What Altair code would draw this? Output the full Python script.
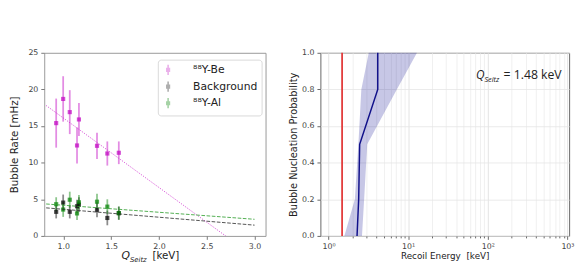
import altair as alt
import pandas as pd

# ---------------- Left panel data ----------------
series = ["⁸⁸Y-Be", "Background", "⁸⁸Y-Al"]
colors = ["#c000c0", "#000000", "#008000"]
light_colors = ["#e290e2", "#8c8c8c", "#80c080"]

q_seitz = [0.925, 0.998, 1.067, 1.143, 1.163, 1.352, 1.46, 1.58]
rate_be = [15.4, 18.7, 16.9, 12.35, 15.9, 12.3, 11.25, 11.35]
err_be = [3.35, 3.1, 3.0, 2.45, 2.25, 1.8, 1.65, 1.55]
rate_bg = [3.29, 4.55, 3.29, 4.05, 4.27, 3.56, 2.45, 3.1]
err_bg = [0.9, 1.1, 0.9, 0.9, 1.0, 1.0, 1.0, 0.9]
rate_al = [4.33, 3.6, 4.94, 3.07, 4.59, 4.67, 4.0, 3.12]
err_al = [0.95, 1.0, 1.1, 0.9, 1.0, 1.1, 1.0, 0.9]

fit_x = [0.82, 3.0]
fit_be = [17.8, -2.87]
fit_bg = [3.83, 1.47]
fit_al = [4.36, 2.27]

left_xticks = [1.0, 1.5, 2.0, 2.5, 3.0]
left_yticks = [0, 5, 10, 15, 20, 25]

# ---------------- Right panel data ----------------
prob = [0.0, 0.2, 0.5, 0.8, 1.0]
e_best = [2.28, 2.39, 2.46, 4.15, 4.15]
e_lo = [1.58, 2.14, 2.37, 2.58, 3.2]
e_hi = [2.63, 2.8, 3.06, 7.2, 12.9]
q_value = 1.48
prob_ticks = [0.0, 0.2, 0.4, 0.6, 0.8, 1.0]
log_ticks = [m * 10 ** k for k in range(3) for m in range(1, 10)] + [1000]

# ---------------- tables ----------------
rows = []
for name, rates, errs in zip(series, [rate_be, rate_bg, rate_al], [err_be, err_bg, err_al]):
    for q, r, e in zip(q_seitz, rates, errs):
        rows.append({"series": name, "q": q, "rate": r, "lo": r - e, "hi": r + e})
pts = pd.DataFrame(rows)

fit_rows = []
for name, ys in zip(series, [fit_be, fit_bg, fit_al]):
    for x, y in zip(fit_x, ys):
        fit_rows.append({"series": name, "q": x, "rate": y})
fits = pd.DataFrame(fit_rows)

band = pd.DataFrame({"p": prob, "best": e_best, "lo": e_lo, "hi": e_hi})
qdf = pd.DataFrame({"q": [q_value]})

FONT = "DejaVu Sans"
LW, LH = 226, 187
RW, RH = 254, 187

cscale = alt.Scale(domain=series, range=colors)
cscale_light = alt.Scale(domain=series, range=light_colors)
# same mapping, listed in reverse order (kept separate from the legend's scale)
cscale_bars = alt.Scale(domain=series[::-1], range=colors[::-1])
xs_left = alt.Scale(domain=[0.8, 3.115], nice=False, zero=False)
ys_left = alt.Scale(domain=[0, 25], nice=False)

axis_common = dict(
    labelFont=FONT, labelFontSize=8, labelColor="#444", tickColor="#777",
    tickSize=3.5, labelPadding=3, domain=False, grid=False, labelOverlap=False,
    labelFlush=False, titleFont=FONT, titleFontWeight="normal", titleColor="#222",
)

x_left_axis = alt.Axis(values=left_xticks, format=".1f", title=None, **axis_common)
y_left_axis = alt.Axis(values=left_yticks, title="Bubble Rate [mHz]", titleFontSize=10.5,
                       titlePadding=9, **axis_common)

XL = lambda f: alt.X(f, scale=xs_left, axis=x_left_axis)
YL = lambda f: alt.Y(f, scale=ys_left, axis=y_left_axis)

legend_path = "M0,-1L0,1M-0.25,-0.25L0.25,-0.25L0.25,0.25L-0.25,0.25Z"
leg = alt.Legend(
    title=None, orient="none", legendX=116, legendY=7, symbolType=legend_path,
    symbolSize=110, symbolStrokeWidth=1.6, labelFont=FONT, labelFontSize=11,
    labelColor="#222", padding=4, rowPadding=0, labelOffset=19,
    strokeColor="#d9d9d9", fillColor="white", cornerRadius=3,
)

errbars = alt.Chart(pts).mark_rule(strokeWidth=1.8, opacity=0.45).encode(
    x=XL("q:Q"), y=YL("lo:Q"), y2="hi:Q",
    color=alt.Color("series:N", scale=cscale_bars, legend=None),
)

squares = alt.Chart(pts).mark_square(size=18, filled=True, strokeWidth=0).encode(
    x=XL("q:Q"), y=YL("rate:Q"),
    fill=alt.Fill("series:N", scale=cscale, legend=leg),
    stroke=alt.Stroke("series:N", scale=cscale_light, legend=leg),
)

fit_styles = {
    series[0]: dict(color="#cc22cc", strokeDash=[1, 1.4]),
    series[1]: dict(color="#333333", strokeDash=[3.7, 1.6]),
    series[2]: dict(color="#33a033", strokeDash=[3.7, 1.6]),
}
fit_layers = []
for name in series:
    st = fit_styles[name]
    fit_layers.append(
        alt.Chart(fits).transform_filter(alt.datum.series == name)
        .mark_line(clip=True, strokeWidth=1, opacity=0.85, **st)
        .encode(x=XL("q:Q"), y=YL("rate:Q"))
    )

def txt(s, x, y, size, style="normal", font=FONT, color="#222"):
    return alt.Chart(pd.DataFrame({"t": [s]})).mark_text(
        align="left", baseline="alphabetic", font=font, fontSize=size,
        fontStyle=style, color=color,
    ).encode(x=alt.value(x), y=alt.value(y), text="t:N")

left_title = [
    txt("Q", 79, 211, 11, "italic"),
    txt("Seitz", 87.5, 214, 7, "italic"),
    txt("[keV]", 110.5, 211, 10.5),
]

left = alt.layer(errbars, squares, *fit_layers, *left_title).properties(
    width=LW, height=LH, view=alt.ViewBackground(stroke="#999", strokeWidth=1)
)

# ---------------- Right panel ----------------
xs_right = alt.Scale(type="log", domain=[0.79, 1050], nice=False)
ys_right = alt.Scale(domain=[0, 1], nice=False)

major_test = "datum.value == 1 || datum.value == 10 || datum.value == 100 || datum.value == 1000"
x_right_axis = alt.Axis(
    values=log_ticks, title="Recoil Energy \u00a0[keV]", titleFontSize=9, titlePadding=2,
    labelExpr="datum.value == 1 ? '10⁰' : datum.value == 10 ? '10¹' : datum.value == 100 ? '10²' : datum.value == 1000 ? '10³' : ''",
    labelOverlap=False, labelFlush=False, labelFont=FONT, labelFontSize=8, labelColor="#444",
    labelPadding=3, domain=False, grid=True, gridWidth=0.8,
    gridColor={"condition": {"test": major_test, "value": "#dcdcdc"}, "value": "#ececec"},
    tickColor="#666",
    tickSize={"condition": {"test": major_test, "value": 3.5}, "value": 2},
    titleFont=FONT, titleFontWeight="normal", titleColor="#222",
)
y_right_axis = alt.Axis(
    values=prob_ticks, format=".1f", title="Bubble Nucleation Probability", titleFontSize=10,
    titlePadding=3, labelFont=FONT, labelFontSize=8, labelColor="#444", labelPadding=3,
    labelOverlap=False, labelFlush=False,
    tickSize=3.5, tickColor="#666", domain=False, grid=True, gridColor="#e6e6e6", gridWidth=0.8,
    titleFont=FONT, titleFontWeight="normal", titleColor="#222",
)
XR = lambda f: alt.X(f, scale=xs_right, axis=x_right_axis)
YR = lambda f: alt.Y(f, scale=ys_right, axis=y_right_axis)

area = alt.Chart(band).mark_area(orient="horizontal", color="#00008b", opacity=0.22).encode(
    y=YR("p:Q"), x=XR("lo:Q"), x2="hi:Q",
)
best = alt.Chart(band).mark_line(color="#10108a", strokeWidth=1.5).encode(
    x=XR("best:Q"), y=YR("p:Q"), order="p:Q",
)
red = alt.Chart(qdf).mark_rule(color="#e23a3a", strokeWidth=1.8).encode(x=XR("q:Q"))

ann = [
    txt("Q", 159, 26.5, 12, "italic", "Open Sans"),
    txt("Seitz", 167.5, 29.5, 7.5, "italic", "Open Sans"),
    txt("= 1.48 keV", 187, 26.5, 12.5, "normal", "Open Sans"),
]

right = alt.layer(area, best, red, *ann).properties(
    width=RW, height=RH, view=alt.ViewBackground(stroke="#666", strokeWidth=1)
)

chart = alt.hconcat(left, right, spacing=22).properties(
    padding={"left": 0, "top": 38, "right": 0, "bottom": 0}
).resolve_scale(x="independent", y="independent")

chart.save("out.html", embed_options={"renderer": "svg", "actions": False})
